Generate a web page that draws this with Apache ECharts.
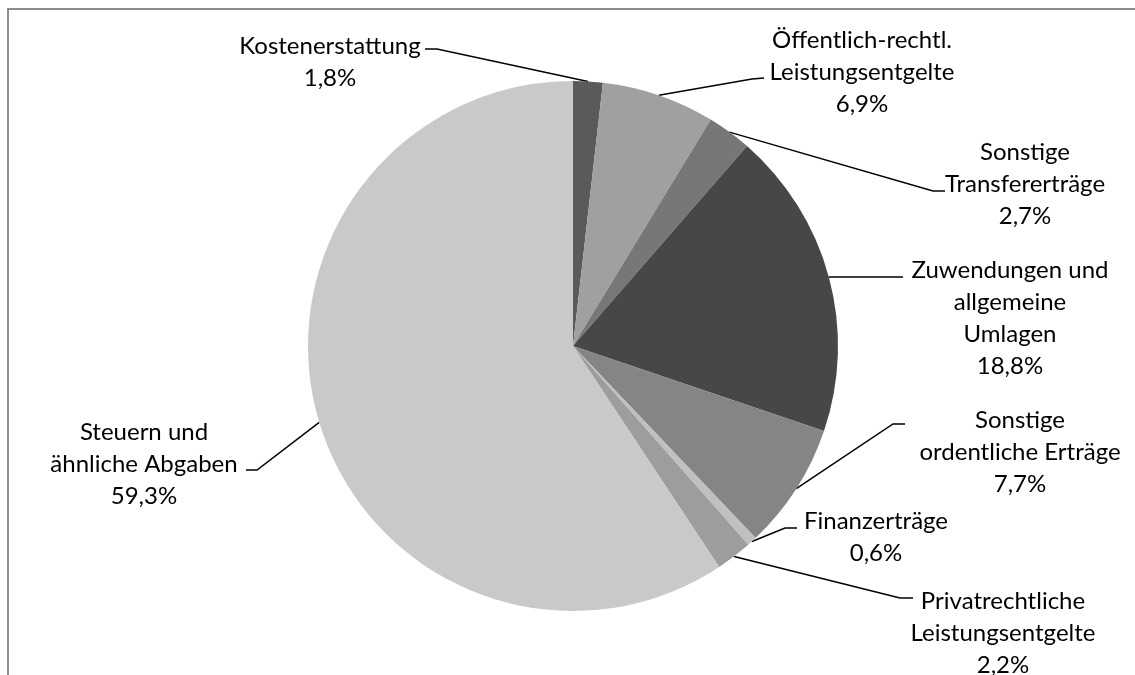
<!DOCTYPE html>
<html><head><meta charset="utf-8">
<script src="https://cdn.jsdelivr.net/npm/echarts@6/dist/echarts.min.js"></script>
<style>html,body{margin:0;padding:0;background:#fff}#c{width:1135px;height:675px}</style>
</head><body><div id="c"></div>
<script>
const categories = ['Kostenerstattung', 'Öffentlich-rechtl.\nLeistungsentgelte', 'Sonstige\nTransfererträge', 'Zuwendungen und\nallgemeine\nUmlagen', 'Sonstige\nordentliche Erträge', 'Finanzerträge', 'Privatrechtliche\nLeistungsentgelte', 'Steuern und\nähnliche Abgaben'];
const values = [1.8, 6.9, 2.7, 18.8, 7.7, 0.6, 2.2, 59.3];
const valueLabels = ['1,8%', '6,9%', '2,7%', '18,8%', '7,7%', '0,6%', '2,2%', '59,3%'];
const colors = ['#5a5a5a', '#a0a0a0', '#777777', '#474747', '#858585', '#c0c0c0', '#9d9d9d', '#c9c9c9'];
// label layout: text block centre, elbow point and end point of the leader line
const labelLayouts = [
  {x: 330, y: 62, elbow: [437, 49], end: [425, 49]},
  {x: 862, y: 72, elbow: [752, 79], end: [764, 78]},
  {x: 1025, y: 184, elbow: [933, 191], end: [945, 191]},
  {x: 1010, y: 318, elbow: [890, 277], end: [903, 277]},
  {x: 1020, y: 452, elbow: [893, 424], end: [905, 424]},
  {x: 876, y: 537, elbow: [785, 528], end: [797, 528]},
  {x: 1003, y: 633, elbow: [900, 598], end: [913, 598]},
  {x: 144, y: 464, elbow: [257, 470], end: [246, 470]}
];
const chart = echarts.init(document.getElementById('c'));
chart.setOption({
  animation: false,
  backgroundColor: '#fff',
  graphic: [{type: 'polyline', shape: {points: [[8, 675], [8, 9], [1135, 9]]}, style: {stroke: '#8c8c8c', lineWidth: 2, fill: null}}],
  series: [{
    type: 'pie',
    center: [573, 346],
    radius: [0, 265],
    startAngle: 90,
    clockwise: true,
    data: categories.map((c, i) => ({name: c, value: values[i], itemStyle: {color: colors[i]}, label: {formatter: c + '\n' + valueLabels[i]}})),
    itemStyle: {borderWidth: 0},
    label: {show: true, position: 'outside', color: '#000', fontFamily: 'Lato', fontSize: 24, lineHeight: 32, align: 'center'},
    labelLine: {show: true, lineStyle: {color: '#000', width: 1.5}},
    labelLayout: function (params) {
      const L = labelLayouts[params.dataIndex];
      const start = params.labelLinePoints ? params.labelLinePoints[0] : L.elbow;
      return {x: L.x, y: L.y, align: 'center', verticalAlign: 'middle', labelLinePoints: [start, L.elbow, L.end]};
    }
  }]
});
</script></body></html>
